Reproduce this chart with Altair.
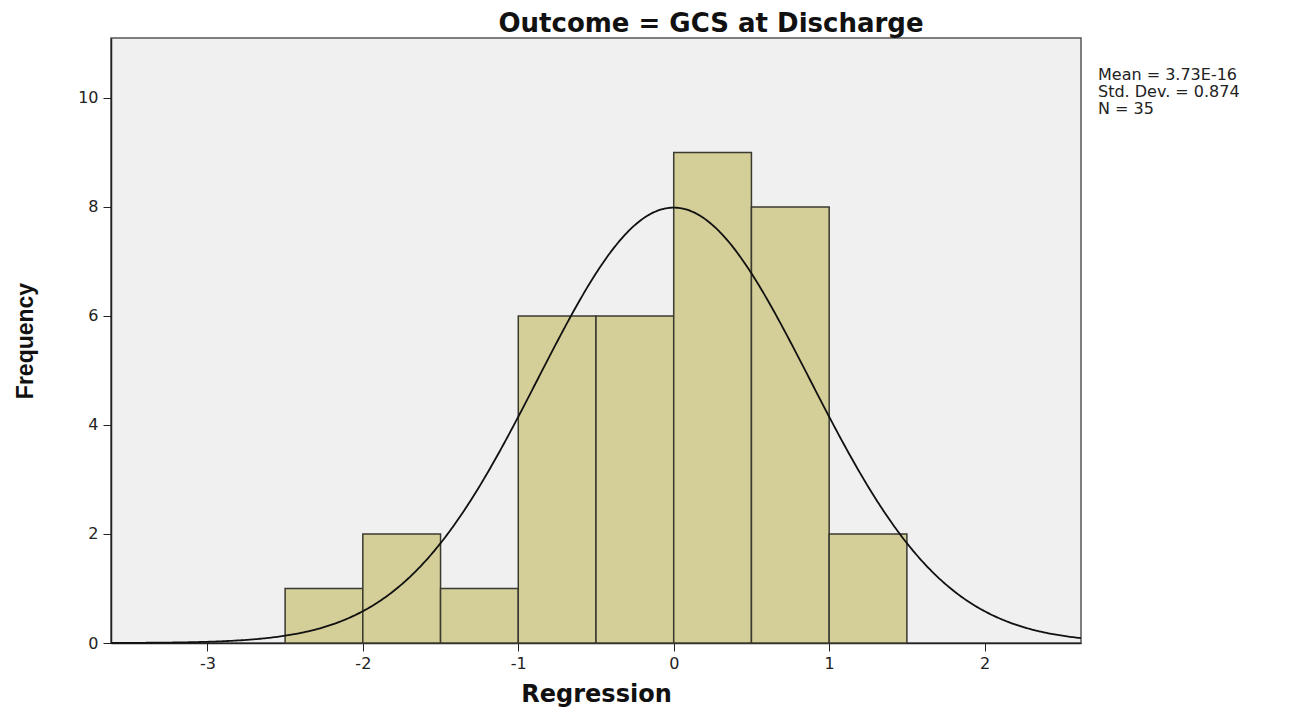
import altair as alt
import pandas as pd

# Histogram data
bin_start = [-2.5, -2.0, -1.5, -1.0, -0.5, 0.0, 0.5, 1.0]
bin_end = [-2.0, -1.5, -1.0, -0.5, 0.0, 0.5, 1.0, 1.5]
counts = [1, 2, 1, 6, 6, 9, 8, 2]

# Summary statistics shown in the chart
MEAN = 3.73e-16
SD = 0.874
N = 35
BIN_WIDTH = 0.5
stats_lines = ["Mean = 3.73E-16", "Std. Dev. = 0.874", "N = 35"]

x_ticks = [-3, -2, -1, 0, 1, 2]
y_ticks = [0, 2, 4, 6, 8, 10]
X_DOMAIN = [-3.62, 2.62]
Y_DOMAIN = [0, 11.1]

bars_df = pd.DataFrame({"start": bin_start, "end": bin_end, "count": counts})

xscale = alt.Scale(domain=X_DOMAIN, nice=False, zero=False)
yscale = alt.Scale(domain=Y_DOMAIN, nice=False)

xaxis = alt.Axis(values=x_ticks, title="Regression", grid=False, tickSize=8,
                 labelExpr="datum.value + ''",
                 labelFontSize=16, labelColor="#222", labelFont="DejaVu Sans",
                 titleFont="DejaVu Sans", titleFontSize=24, titleFontWeight="bold",
                 titleColor="#111", titlePadding=11, domainColor="#222", tickColor="#222",
                 domainWidth=1.5, labelPadding=4)
yaxis = alt.Axis(values=y_ticks, title="Frequency", grid=False, tickSize=8,
                 labelExpr="datum.value + ''",
                 labelFontSize=16, labelColor="#222", labelFont="DejaVu Sans",
                 titleFont="Liberation Sans", titleFontSize=23,
                 titleFontWeight="bold", titleColor="#111", titlePadding=40,
                 domainColor="#222", tickColor="#222", domainWidth=1.5, labelPadding=5)

bars = alt.Chart(bars_df).mark_rect(
    fill="#D4CF98", stroke="#3a3a30", strokeWidth=1.5
).encode(
    x=alt.X("start:Q", scale=xscale, axis=xaxis),
    x2="end:Q",
    y=alt.Y("count:Q", scale=yscale, axis=yaxis),
    y2=alt.datum(0),
)

curve = alt.Chart(alt.sequence(start=X_DOMAIN[0], stop=X_DOMAIN[1] + 0.005, step=0.01, as_="x")).transform_calculate(
    y=f"{N}*{BIN_WIDTH}*exp(-0.5*pow((datum.x-{MEAN})/{SD},2))/({SD}*sqrt(2*PI))"
).mark_line(color="#111", strokeWidth=1.8).encode(
    x=alt.X("x:Q", scale=xscale),
    y=alt.Y("y:Q", scale=yscale),
)

stats_df = pd.DataFrame({"txt": ["\n".join(stats_lines)]})
stats = alt.Chart(stats_df).mark_text(
    align="left", baseline="top", fontSize=16, font="DejaVu Sans", color="#222",
    lineBreak="\n", lineHeight=17
).encode(
    x=alt.value(987),
    y=alt.value(29),
    text="txt:N",
)

chart = alt.layer(bars, curve, stats).properties(
    width=970,
    height=605,
    autosize=alt.AutoSizeParams(type="none"),
    padding={"left": 103, "top": 30, "right": 200, "bottom": 66},
    title=alt.TitleParams("Outcome = GCS at Discharge", fontSize=26, fontWeight="bold",
                          font="DejaVu Sans", color="#111", anchor="middle",
                          dx=115, dy=4, offset=5),
).configure_view(fill="#F0F0F0", stroke="#555", strokeWidth=1.5)

chart.save("out.html", embed_options={"renderer": "svg", "actions": False})
